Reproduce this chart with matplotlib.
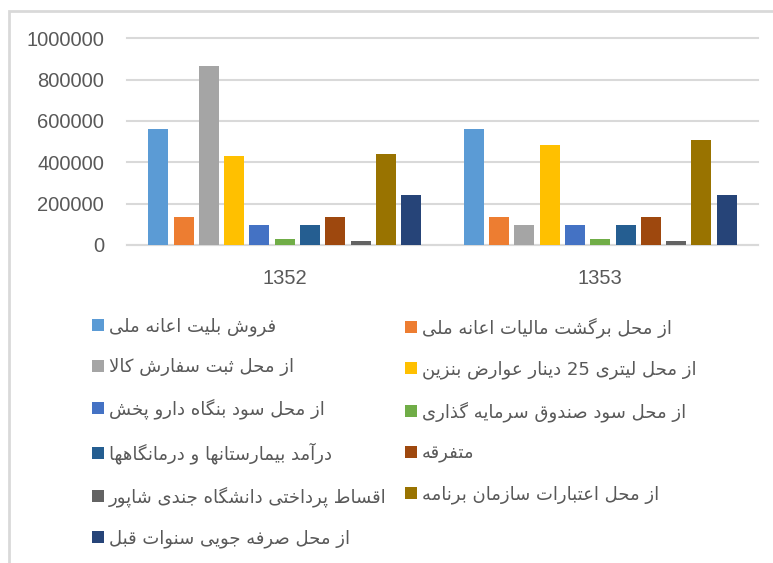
import numpy as np
import matplotlib
matplotlib.use('Agg')
import matplotlib.pyplot as plt
from matplotlib.patches import Rectangle

# data
years = ['1352', '1353']
labels = ['فروش بلیت اعانه ملی',
          'از محل برگشت مالیات اعانه ملی',
          'از محل ثبت سفارش کالا',
          'از محل لیتری 25 دینار عوارض بنزین',
          'از محل سود بنگاه دارو پخش',
          'از محل سود صندوق سرمایه گذاری',
          'درآمد بیمارستانها و درمانگاهها',
          'متفرقه',
          'اقساط پرداختی دانشگاه جندی شاپور',
          'از محل اعتبارات سازمان برنامه',
          'از محل صرفه جویی سنوات قبل']
v1352 = [560000, 137000, 865000, 432000, 96000, 27000, 96000, 137000, 18000, 440000, 244000]
v1353 = [560000, 137000, 96000, 486000, 96000, 27000, 96000, 137000, 18000, 510000, 244000]
colors = ['#5B9BD5', '#ED7D31', '#A5A5A5', '#FFC000', '#4472C4', '#70AD47',
          '#255E91', '#9E480E', '#636363', '#997300', '#264478']
yticks = [0, 200000, 400000, 600000, 800000, 1000000]

# minimal persian shaping (presentation forms) since matplotlib has no bidi
FORMS = {
    'ا': (0xFE8D, 0xFE8E, None, None), 'آ': (0xFE81, 0xFE82, None, None),
    'ب': (0xFE8F, 0xFE90, 0xFE91, 0xFE92), 'پ': (0xFB56, 0xFB57, 0xFB58, 0xFB59),
    'ت': (0xFE95, 0xFE96, 0xFE97, 0xFE98), 'ث': (0xFE99, 0xFE9A, 0xFE9B, 0xFE9C),
    'ج': (0xFE9D, 0xFE9E, 0xFE9F, 0xFEA0), 'چ': (0xFB7A, 0xFB7B, 0xFB7C, 0xFB7D),
    'ح': (0xFEA1, 0xFEA2, 0xFEA3, 0xFEA4), 'خ': (0xFEA5, 0xFEA6, 0xFEA7, 0xFEA8),
    'د': (0xFEA9, 0xFEAA, None, None), 'ذ': (0xFEAB, 0xFEAC, None, None),
    'ر': (0xFEAD, 0xFEAE, None, None), 'ز': (0xFEAF, 0xFEB0, None, None),
    'ژ': (0xFB8A, 0xFB8B, None, None),
    'س': (0xFEB1, 0xFEB2, 0xFEB3, 0xFEB4), 'ش': (0xFEB5, 0xFEB6, 0xFEB7, 0xFEB8),
    'ص': (0xFEB9, 0xFEBA, 0xFEBB, 0xFEBC), 'ض': (0xFEBD, 0xFEBE, 0xFEBF, 0xFEC0),
    'ط': (0xFEC1, 0xFEC2, 0xFEC3, 0xFEC4), 'ظ': (0xFEC5, 0xFEC6, 0xFEC7, 0xFEC8),
    'ع': (0xFEC9, 0xFECA, 0xFECB, 0xFECC), 'غ': (0xFECD, 0xFECE, 0xFECF, 0xFED0),
    'ف': (0xFED1, 0xFED2, 0xFED3, 0xFED4), 'ق': (0xFED5, 0xFED6, 0xFED7, 0xFED8),
    'ک': (0xFB8E, 0xFB8F, 0xFB90, 0xFB91), 'گ': (0xFB92, 0xFB93, 0xFB94, 0xFB95),
    'ل': (0xFEDD, 0xFEDE, 0xFEDF, 0xFEE0), 'م': (0xFEE1, 0xFEE2, 0xFEE3, 0xFEE4),
    'ن': (0xFEE5, 0xFEE6, 0xFEE7, 0xFEE8), 'ه': (0xFEE9, 0xFEEA, 0xFEEB, 0xFEEC),
    'و': (0xFEED, 0xFEEE, None, None), 'ی': (0xFBFC, 0xFBFD, 0xFBFE, 0xFBFF),
}
LAMALEF = {'ا': (0xFEFB, 0xFEFC), 'آ': (0xFEF5, 0xFEF6)}


def joins_next(ch):
    return ch in FORMS and FORMS[ch][2] is not None


def shape_word(w):
    res = []
    i = 0
    while i < len(w):
        c = w[i]
        if c not in FORMS:
            res.append(c)
            i += 1
            continue
        linked_prev = i > 0 and joins_next(w[i-1])
        if c == 'ل' and i+1 < len(w) and w[i+1] in LAMALEF:
            iso, fin = LAMALEF[w[i+1]]
            res.append(chr(fin if linked_prev else iso))
            i += 2
            continue
        linked_next = joins_next(c) and i+1 < len(w) and w[i+1] in FORMS
        iso, fin, ini, med = FORMS[c]
        if linked_prev and linked_next:
            f = med
        elif linked_prev:
            f = fin
        elif linked_next:
            f = ini
        else:
            f = iso
        res.append(chr(f))
        i += 1
    return ''.join(res)


def rtl(text):
    out = []
    for t in reversed(text.split(' ')):
        out.append(t if t.isdigit() else shape_word(t)[::-1])
    return ' '.join(out)


W, H = 773, 563
fig = plt.figure(figsize=(W/100, H/100), dpi=100)
ax = fig.add_axes([127/W, 1-245/H, (758-127)/W, (245-38.3)/H])

slot = 25.3/315.5
bw = 20/315.5
x = np.arange(len(years))
handles = []
for i in range(len(labels)):
    off = (i - 5)*slot
    b = ax.bar(x + off, [v1352[i], v1353[i]], width=bw, color=colors[i],
               label=rtl(labels[i]), zorder=3)
    handles.append(b)

ax.set_xlim(-0.5, 1.5)
ax.set_ylim(0, 1000000)
ax.set_yticks(yticks)
ax.set_yticklabels([str(v) for v in yticks], family='Liberation Sans', fontsize=14.5, color='#595959')
ax.set_xticks(x)
ax.set_xticklabels(years, family='Liberation Sans', fontsize=14.5, color='#595959')
ax.tick_params(length=0)
ax.tick_params(axis='y', pad=16.5)
ax.tick_params(axis='x', pad=17)
ax.grid(axis='y', color='#D9D9D9', linewidth=1.5, zorder=0)
for g in ax.get_ygridlines():
    g.set_clip_on(False)
for s in ['top', 'right', 'left']:
    ax.spines[s].set_visible(False)
ax.spines['bottom'].set_color('#D9D9D9')
ax.spines['bottom'].set_linewidth(1.5)

# legend, row-wise in two columns -> two legends
left_idx = [0, 2, 4, 6, 8, 10]
right_idx = [1, 3, 5, 7, 9]
common = dict(frameon=False, loc='upper left', handlelength=0.65, handleheight=0.65,
              handletextpad=0.3, labelspacing=1.25, borderpad=0, borderaxespad=0,
              prop={'family': 'DejaVu Sans', 'size': 13}, labelcolor='#595959')
fig.legend([handles[i] for i in left_idx], [rtl(labels[i]) for i in left_idx],
           bbox_to_anchor=(92/W, 1-317/H), **common)
fig.legend([handles[i] for i in right_idx], [rtl(labels[i]) for i in right_idx],
           bbox_to_anchor=(405/W, 1-317/H), **common)

# chart border
fig.add_artist(Rectangle((8.5/W, -0.1), 1.2, 1.1 - 10.5/H, transform=fig.transFigure,
                         fill=False, edgecolor='#D9D9D9', linewidth=2))

plt.savefig('out.png', dpi=100)
